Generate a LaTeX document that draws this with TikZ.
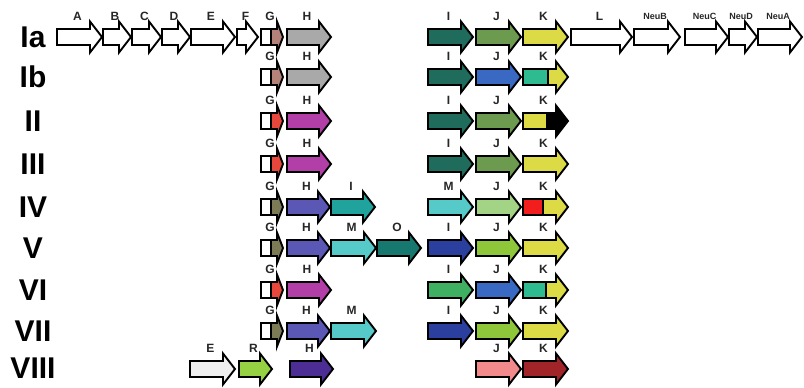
\documentclass[tikz,border=0pt]{standalone}
\usepackage{fontspec}
\setmainfont{Liberation Sans}
\usetikzlibrary{positioning}

\definecolor{gbrown}{HTML}{B5827A}
\definecolor{gred}{HTML}{E8473C}
\definecolor{golive}{HTML}{7D7B55}
\definecolor{hgray}{HTML}{A9A9A9}
\definecolor{hmag}{HTML}{B23FA8}
\definecolor{hslate}{HTML}{5B58B5}
\definecolor{hpurp}{HTML}{4B2D93}
\definecolor{idteal}{HTML}{1F6B5C}
\definecolor{iteal}{HTML}{1FA39C}
\definecolor{iblue}{HTML}{2B3F9E}
\definecolor{igreen}{HTML}{3FAF62}
\definecolor{mcyan}{HTML}{56C9C9}
\definecolor{oteal}{HTML}{17786F}
\definecolor{jgreen}{HTML}{6C9B50}
\definecolor{jblue}{HTML}{3A69C4}
\definecolor{jlgreen}{HTML}{A3D385}
\definecolor{jygreen}{HTML}{8FC73A}
\definecolor{jpink}{HTML}{F2898A}
\definecolor{kyellow}{HTML}{DCDB45}
\definecolor{kteal}{HTML}{2DBB8F}
\definecolor{kred}{HTML}{F21E1E}
\definecolor{kdred}{HTML}{A12528}
\definecolor{egray}{HTML}{EFEFEF}
\definecolor{rgreen}{HTML}{95D143}

\tikzset{
  genebox/.style={draw=black, line width=1.9pt, line join=miter},
  genelbl/.style={font=\bfseries\fontsize{12}{12}\selectfont, text=black!85, inner sep=0pt},
  neulbl/.style={font=\bfseries\fontsize{9}{9}\selectfont, text=black!85, inner sep=0pt},
  rowlbl/.style={font=\bfseries\fontsize{30}{30}\selectfont, inner sep=0pt},
}

% outline of one gene arrow: x1, x2, y, head length
\newcommand{\genepath}[4]{(#1,#3-8) -- (#2-#4,#3-8) -- (#2-#4,#3-15.5) -- (#2,#3) -- (#2-#4,#3+15.5) -- (#2-#4,#3+8) -- (#1,#3+8) -- cycle}

% [label style] row, name, x1, x2, y, fill
\newcommand{\gene}[7][genelbl]{%
  \draw[genebox, fill=#7] \genepath{#4}{#5}{#6}{12};
  \node[#1] (#2-#3) at ({(#4+#5)/2-2},#6-21) {#3};
}

% two-coloured gene: row, name, x1, x2, split x, y, left fill, right fill, head length
\newcommand{\sgene}[9]{%
  \fill[#8] \genepath{#3}{#4}{#6}{#9};
  \fill[#7] (#3,#6-8) rectangle (#5,#6+8);
  \draw[genebox] (#5,#6-8) -- (#5,#6+8);
  \draw[genebox] \genepath{#3}{#4}{#6}{#9};
  \node[genelbl] (#1-#2) at ({(#3+#4)/2-2},#6-21) {#2};
}

\begin{document}
\begin{tikzpicture}[x=1pt,y=-1pt]
  \useasboundingbox (0,0) rectangle (804,388);

  % row labels
  \node[rowlbl] (Ia) at (33,37) {Ia};
  \node[rowlbl] (Ib) at (33,77) {Ib};
  \node[rowlbl] (II) at (33,121) {II};
  \node[rowlbl] (III) at (33,164) {III};
  \node[rowlbl] (IV) at (33,207) {IV};
  \node[rowlbl] (V) at (33,248) {V};
  \node[rowlbl] (VI) at (33,290) {VI};
  \node[rowlbl] (VII) at (33,331) {VII};
  \node[rowlbl] (VIII) at (33,368) {VIII};

  % Ia
  \gene{Ia}{A}{57}{102}{37}{white}
  \gene{Ia}{B}{103}{131}{37}{white}
  \gene{Ia}{C}{132}{161}{37}{white}
  \gene{Ia}{D}{162}{190}{37}{white}
  \gene{Ia}{E}{191}{235}{37}{white}
  \gene{Ia}{F}{237}{258}{37}{white}
  \sgene{Ia}{G}{261}{283}{271}{37}{white}{gbrown}{6}
  \gene{Ia}{H}{287}{331}{37}{hgray}
  \gene{Ia}{I}{428}{473}{37}{idteal}
  \gene{Ia}{J}{476}{521}{37}{jgreen}
  \gene{Ia}{K}{523}{568}{37}{kyellow}
  \gene{Ia}{L}{571}{632}{37}{white}
  \gene[neulbl]{Ia}{NeuB}{634}{680}{37}{white}
  \gene[neulbl]{Ia}{NeuC}{685}{728}{37}{white}
  \gene[neulbl]{Ia}{NeuD}{729}{757}{37}{white}
  \gene[neulbl]{Ia}{NeuA}{758}{802}{37}{white}

  % Ib
  \sgene{Ib}{G}{261}{283}{271}{77}{white}{gbrown}{6}
  \gene{Ib}{H}{287}{331}{77}{hgray}
  \gene{Ib}{I}{428}{473}{77}{idteal}
  \gene{Ib}{J}{476}{521}{77}{jblue}
  \sgene{Ib}{K}{523}{568}{548}{77}{kteal}{kyellow}{12}

  % II
  \sgene{II}{G}{261}{283}{271}{121}{white}{gred}{6}
  \gene{II}{H}{287}{331}{121}{hmag}
  \gene{II}{I}{428}{473}{121}{idteal}
  \gene{II}{J}{476}{521}{121}{jgreen}
  \sgene{II}{K}{523}{568}{547}{121}{kyellow}{black}{12}

  % III
  \sgene{III}{G}{261}{283}{271}{164}{white}{gred}{6}
  \gene{III}{H}{287}{331}{164}{hmag}
  \gene{III}{I}{428}{473}{164}{idteal}
  \gene{III}{J}{476}{521}{164}{jgreen}
  \gene{III}{K}{523}{568}{164}{kyellow}

  % IV
  \sgene{IV}{G}{261}{283}{271}{207}{white}{golive}{6}
  \gene{IV}{H}{287}{330}{207}{hslate}
  \gene{IV}{I}{331}{375}{207}{iteal}
  \gene{IV}{M}{428}{473}{207}{mcyan}
  \gene{IV}{J}{476}{521}{207}{jlgreen}
  \sgene{IV}{K}{523}{568}{543}{207}{kred}{kyellow}{12}

  % V
  \sgene{V}{G}{261}{283}{271}{248}{white}{golive}{6}
  \gene{V}{H}{287}{330}{248}{hslate}
  \gene{V}{M}{331}{376}{248}{mcyan}
  \gene{V}{O}{377}{421}{248}{oteal}
  \gene{V}{I}{428}{473}{248}{iblue}
  \gene{V}{J}{476}{521}{248}{jygreen}
  \gene{V}{K}{523}{568}{248}{kyellow}

  % VI
  \sgene{VI}{G}{261}{283}{271}{290}{white}{gred}{6}
  \gene{VI}{H}{287}{331}{290}{hmag}
  \gene{VI}{I}{428}{473}{290}{igreen}
  \gene{VI}{J}{476}{521}{290}{jblue}
  \sgene{VI}{K}{523}{568}{546}{290}{kteal}{kyellow}{12}

  % VII
  \sgene{VII}{G}{261}{283}{271}{331}{white}{golive}{6}
  \gene{VII}{H}{287}{330}{331}{hslate}
  \gene{VII}{M}{331}{376}{331}{mcyan}
  \gene{VII}{I}{428}{473}{331}{iblue}
  \gene{VII}{J}{476}{521}{331}{jygreen}
  \gene{VII}{K}{523}{568}{331}{kyellow}

  % VIII
  \gene{VIII}{E}{190}{235}{369}{egray}
  \gene{VIII}{R}{239}{272}{369}{rgreen}
  \gene{VIII}{H}{290}{333}{369}{hpurp}
  \gene{VIII}{J}{476}{521}{369}{jpink}
  \gene{VIII}{K}{523}{568}{369}{kdred}
\end{tikzpicture}
\end{document}
